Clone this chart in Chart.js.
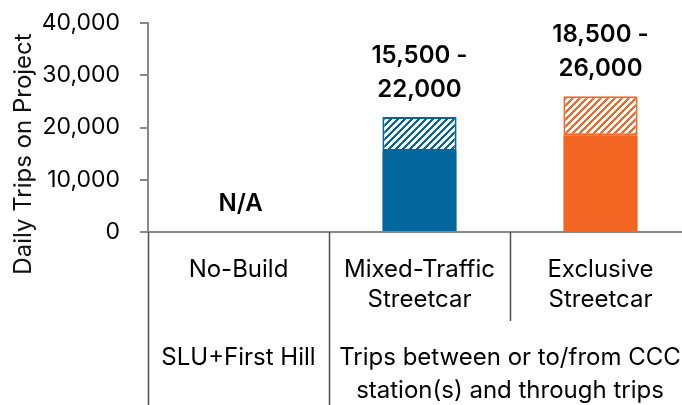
<!DOCTYPE html>
<html>
<head>
<meta charset="utf-8">
<script src="https://cdn.jsdelivr.net/npm/chart.js@4"></script>
<style>
  html, body { margin: 0; padding: 0; background: #fff; overflow: hidden; }
  #wrap { width: 692px; height: 405px; }
</style>
</head>
<body>
<div id="wrap"><canvas id="trips" width="692" height="405"></canvas></div>
<script>
// categories (one entry per line of the label)
const categories = [['No-Build'], ['Mixed-Traffic', 'Streetcar'], ['Exclusive', 'Streetcar']];
// low / high ends of the daily trip range; null = not applicable
const lowTrips = [null, 15500, 18500];
const highTrips = [null, 22000, 26000];
const yTicks = [0, 10000, 20000, 30000, 40000];
// second row of the axis: text and the categories it covers
const groupLabels = [['SLU+First Hill'], ['Trips between or to/from CCC', 'station(s) and through trips']];
const groupSpans = [[0, 0], [1, 2]];

const BLUE = '#03669d';
const ORANGE = '#f26522';
const barColors = ['#ffffff', BLUE, ORANGE];
const FONT = 'Inter, "DejaVu Sans", sans-serif';

// crisp "/" stripes, one pixel at a time
function hatch(color) {
    const n = 7;
    const c = document.createElement('canvas');
    c.width = c.height = n;
    const g = c.getContext('2d');
    g.fillStyle = color;
    g.fillRect(0, 0, n, n);
    g.fillStyle = '#fff';
    for (let i = 0; i < n; i++) {
        for (let j = 0; j < n; j++) {
            if ((i + j) % n < 4) g.fillRect(i, j, 1, 1);
        }
    }
    return g.createPattern(c, 'repeat');
}

const fmt = v => v.toLocaleString('en-US');

const annotate = {
    id: 'annotate',
    afterDraw(chart) {
        const ctx = chart.ctx;
        const x = chart.scales.x, y = chart.scales.y;
        const area = chart.chartArea;
        ctx.save();
        ctx.textAlign = 'center';
        ctx.textBaseline = 'middle';
        ctx.fillStyle = '#000';

        // range labels above bars, N/A where there is none
        ctx.font = '600 24px ' + FONT;
        categories.forEach((_, i) => {
            const cx = x.getPixelForValue(i);
            if (highTrips[i] == null) {
                ctx.fillText('N/A', cx + 2, area.bottom - 28);
                return;
            }
            const top = y.getPixelForValue(highTrips[i]);
            ctx.fillText(fmt(lowTrips[i]) + ' -', cx, top - 61);
            ctx.fillText(fmt(highTrips[i]), cx, top - 27);
        });

        // category labels
        ctx.font = '24px ' + FONT;
        categories.forEach((lines, i) => {
            const cx = x.getPixelForValue(i);
            lines.forEach((t, k) => ctx.fillText(t, cx, area.bottom + 38 + k * 30));
        });

        // group labels
        groupLabels.forEach((lines, gi) => {
            const [a, b] = groupSpans[gi];
            const cx = (x.getPixelForValue(a) + x.getPixelForValue(b)) / 2;
            lines.forEach((t, k) => ctx.fillText(t, cx, area.bottom + 126 + k * 33));
        });

        // separators below the axis
        const half = (x.getPixelForValue(1) - x.getPixelForValue(0)) / 2;
        ctx.strokeStyle = '#4d4d4d';
        ctx.lineWidth = 1.5;
        const seps = [[x.getPixelForValue(0) - half, chart.height],
                      [x.getPixelForValue(1) - half, chart.height],
                      [x.getPixelForValue(2) - half, area.bottom + 89]];
        seps.forEach(([sx, end]) => {
            ctx.beginPath();
            ctx.moveTo(Math.round(sx) + 0.5, area.bottom);
            ctx.lineTo(Math.round(sx) + 0.5, end);
            ctx.stroke();
        });

        // y axis title
        ctx.translate(24, 154);
        ctx.rotate(-Math.PI / 2);
        ctx.font = '24px ' + FONT;
        ctx.fillStyle = '#111';
        ctx.fillText('Daily Trips on Project', 0, 0);
        ctx.restore();
    }
};

new Chart(document.getElementById('trips'), {
    type: 'bar',
    data: {
        labels: categories,
        datasets: [{
            data: lowTrips,
            backgroundColor: barColors,
            grouped: false,
            categoryPercentage: 1,
            barPercentage: 0.41
        }, {
            data: categories.map((_, i) => highTrips[i] == null ? null : [lowTrips[i], highTrips[i]]),
            backgroundColor: barColors.map(c => hatch(c)),
            borderColor: barColors,
            borderWidth: 2,
            borderSkipped: false,
            grouped: false,
            categoryPercentage: 1,
            barPercentage: 0.41
        }]
    },
    plugins: [annotate],
    options: {
        responsive: false,
        animation: false,
        layout: { padding: { top: 23, right: 1, left: 0, bottom: 0 } },
        plugins: { legend: { display: false }, tooltip: { enabled: false } },
        scales: {
            x: {
                ticks: { display: false },
                grid: { display: false },
                border: { display: true, color: '#888', width: 2 },
                afterFit: s => { s.height = 173; }
            },
            y: {
                min: yTicks[0],
                max: yTicks[yTicks.length - 1],
                afterBuildTicks: s => { s.ticks = yTicks.map(v => ({ value: v })); },
                ticks: {
                    padding: 20,
                    color: '#000',
                    font: { family: FONT, size: 23 },
                    callback: v => fmt(v)
                },
                grid: { drawOnChartArea: false, tickLength: 8, color: '#888', lineWidth: 2 },
                border: { color: '#888', width: 2 },
                afterFit: s => {
                    s.width = 148;
                    s.paddingTop = 0;
                    s.paddingBottom = 0;
                }
            }
        }
    }
});
</script>
</body>
</html>
